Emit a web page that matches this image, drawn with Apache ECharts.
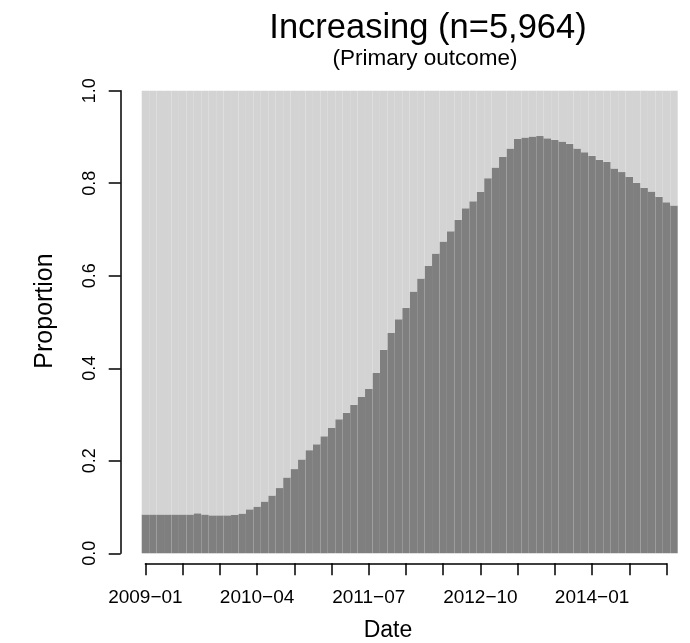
<!DOCTYPE html>
<html>
<head>
<meta charset="utf-8">
<script src="https://cdn.jsdelivr.net/npm/echarts@6/dist/echarts.min.js"></script>
<style>
html, body { margin: 0; padding: 0; background: #ffffff; }
#chart { width: 690px; height: 643px; }
</style>
</head>
<body>
<div id="chart"></div>
<script>
// monthly share of "increasing" (dark part of each bar), 2009-01 .. 2014-12
const increasing = [
  0.084, 0.084, 0.084, 0.084, 0.084, 0.084, 0.084, 0.0865, 0.084, 0.082,
  0.082, 0.082, 0.0836, 0.086, 0.095, 0.101, 0.112, 0.125, 0.141, 0.164,
  0.182, 0.203, 0.223, 0.236, 0.253, 0.271, 0.290, 0.304, 0.321, 0.338,
  0.355, 0.390, 0.440, 0.476, 0.506, 0.531, 0.566, 0.594, 0.621, 0.648,
  0.674, 0.696, 0.721, 0.746, 0.761, 0.781, 0.811, 0.834, 0.857, 0.875,
  0.896, 0.899, 0.901, 0.902, 0.897, 0.894, 0.890, 0.885, 0.875, 0.867,
  0.859, 0.851, 0.846, 0.832, 0.824, 0.814, 0.801, 0.790, 0.782, 0.771,
  0.759, 0.752
]
// labelled every 15th month, ticks every 5th
const tickLabels = ['2009\u221201', '2010\u221204', '2011\u221207', '2012\u221210', '2014\u221201']
const periods = increasing.map((_, i) => i)
const rest = increasing.map(v => 1 - v)

const font = 'Liberation Sans, Arial, Helvetica, sans-serif'
const chart = echarts.init(document.getElementById('chart'))

const option = {
  animation: false,
  backgroundColor: '#ffffff',
  textStyle: { fontFamily: font },
  title: [
    {
      text: 'Increasing (n=5,964)',
      left: 423, top: 6, textAlign: 'center',
      textStyle: { fontSize: 34.5, fontWeight: 'normal', color: '#000', fontFamily: font }
    },
    {
      text: '(Primary outcome)',
      left: 420, top: 42, textAlign: 'center',
      textStyle: { fontSize: 22.5, fontWeight: 'normal', color: '#000', fontFamily: font }
    },
    {
      text: 'Date',
      left: 383, top: 614, textAlign: 'center',
      textStyle: { fontSize: 23, fontWeight: 'normal', color: '#000', fontFamily: font }
    }
  ],
  graphic: [
    {
      type: 'text', x: 45, y: 311, rotation: Math.PI / 2,
      style: { text: 'Proportion', fontSize: 25, fontFamily: font, fill: '#000', align: 'center', verticalAlign: 'middle' }
    }
  ],
  grid: [
    { left: 141.7, right: 12.3, top: 90.7, bottom: 89.7 },
    // axis-only grid so the date axis runs from the first to the last tick
    { left: 145.4, right: 23.5, top: 562.3, height: 1 }
  ],
  xAxis: [
    { type: 'category', gridIndex: 0, data: periods, show: false },
    {
      type: 'value', gridIndex: 1, min: 0, max: 70, interval: 5,
      axisLine: { show: true, lineStyle: { color: '#000', width: 1.5 } },
      axisTick: { show: true, length: 12, lineStyle: { color: '#000', width: 1.5 } },
      splitLine: { show: false },
      axisLabel: {
        color: '#000', fontSize: 19, margin: 25, showMinLabel: true, showMaxLabel: true,
        formatter: v => (v % 15 === 0 && tickLabels[v / 15]) ? tickLabels[v / 15] : ''
      }
    }
  ],
  yAxis: [
    {
      type: 'value', gridIndex: 0, min: 0, max: 1, interval: 0.2, offset: 21,
      axisLine: { show: true, lineStyle: { color: '#000', width: 1.5 } },
      axisTick: { show: true, length: 12, lineStyle: { color: '#000', width: 1.5 } },
      splitLine: { show: false },
      axisLabel: { color: '#000', fontSize: 18, rotate: 90, margin: 22, formatter: v => v.toFixed(1) }
    },
    { type: 'value', gridIndex: 1, show: false }
  ],
  series: [
    {
      name: 'Increasing', type: 'bar', stack: 'p', xAxisIndex: 0, yAxisIndex: 0,
      data: increasing, barCategoryGap: '0%', barGap: '0%', silent: true,
      itemStyle: { color: '#7f7f7f' }
    },
    {
      name: 'Other', type: 'bar', stack: 'p', xAxisIndex: 0, yAxisIndex: 0,
      data: rest, barCategoryGap: '0%', barGap: '0%', silent: true,
      itemStyle: { color: '#d3d3d3' }
    }
  ]
}
chart.setOption(option)
</script>
</body>
</html>
